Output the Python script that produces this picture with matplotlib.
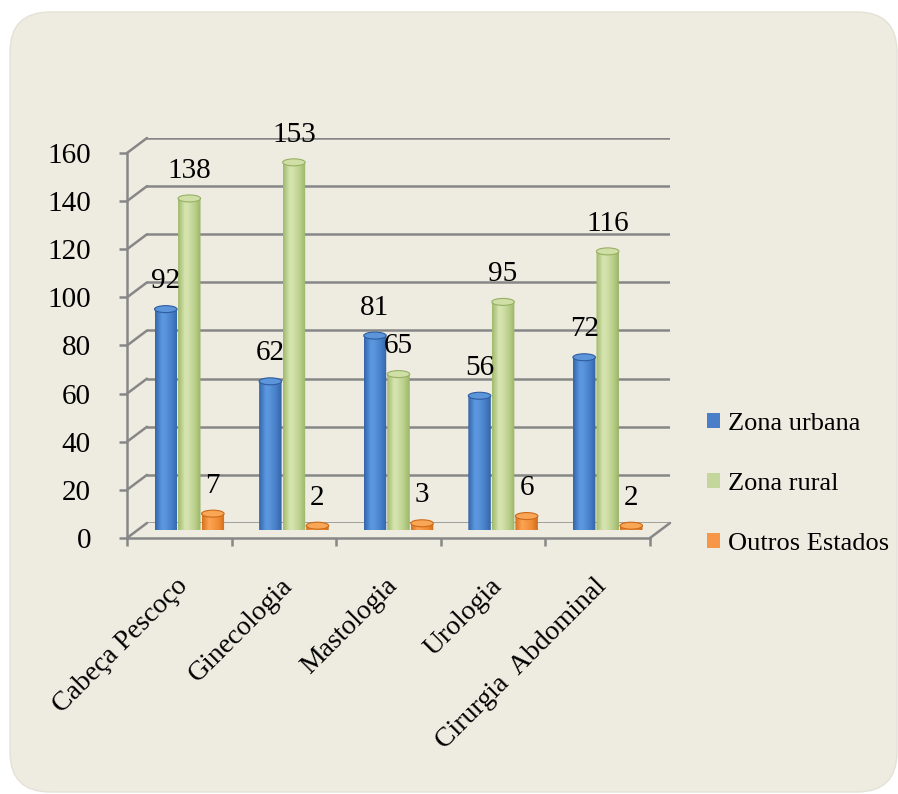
import matplotlib
matplotlib.use("Agg")
import matplotlib.pyplot as plt
import numpy as np
from matplotlib.patches import FancyBboxPatch, Ellipse, Polygon, Patch, ConnectionPatch
from matplotlib.colors import LinearSegmentedColormap
from matplotlib.transforms import IdentityTransform, ScaledTranslation

plt.rcParams['font.family'] = ['Liberation Serif', 'DejaVu Serif']

# ---------------- data ----------------
categories = ["Cabeça Pescoço", "Ginecologia", "Mastologia", "Urologia", "Cirurgia  Abdominal"]
series_names = ["Zona urbana", "Zona rural", "Outros Estados"]
zona_urbana = [92, 62, 81, 56, 72]
zona_rural = [138, 153, 65, 95, 116]
outros_estados = [7, 2, 3, 6, 2]
y_ticks = [0, 20, 40, 60, 80, 100, 120, 140, 160]

# ---------------- styling ----------------
W, H = 898, 794
BG = '#EEECE1'
GRID = '#878787'
series_values = [zona_urbana, zona_rural, outros_estados]
legend_colors = ['#4A7EC8', '#C3D69B', '#F79646']
grad_colors = [
    ['#3565AA', '#5B98E0', '#5A95DC', '#467FC8', '#3463A6'],
    ['#9FB96C', '#D6E4B0', '#D2E1AA', '#B9CF8A', '#9BB468'],
    ['#D8711C', '#FBA455', '#F99C48', '#EE8A33', '#D06C1A'],
]
cap_colors = ['#5C95DA', '#CFDFA6', '#F9A657']
cap_edges = ['#2F5C9E', '#97B064', '#CB6A18']

fig = plt.figure(figsize=(W / 100, H / 100), dpi=100)
fig.patch.set_facecolor('white')

bg = FancyBboxPatch((10, H - 792), 887, 780,
                    boxstyle="round,pad=0,rounding_size=40",
                    transform=IdentityTransform(), facecolor=BG,
                    edgecolor='#E4E2D6', linewidth=1.0, zorder=0)
fig.patches.append(bg)


def add_ax(left, right, y0, ytop, z):
    a = fig.add_axes([left / W, 1 - y0 / H, (right - left) / W, (y0 - ytop) / H])
    a.set_zorder(z)
    a.patch.set_visible(False)
    a.set_xlim(-0.5, len(categories) - 0.5)
    a.set_ylim(0, 160)
    return a


axb = add_ax(147, 670, 523, 138, 1)     # back wall
axm = add_ax(137, 660, 530.5, 145.5, 2)  # mid-depth plane (bars)
axf = add_ax(127, 650, 538, 153, 3)     # front plane (axes)

# back wall gridlines
for a in (axb, axm):
    for s in a.spines.values():
        s.set_visible(False)
    a.set_xticks([])
    a.set_yticks([])
for v in y_ticks:
    axb.axhline(v, color=GRID, lw=1.8)
    cp = ConnectionPatch(xyA=(-0.5, v), coordsA=axf.transData,
                         xyB=(-0.5, v), coordsB=axb.transData,
                         color=GRID, lw=1.8, zorder=1)
    fig.add_artist(cp)
cp = ConnectionPatch(xyA=(len(categories) - 0.5, 0), coordsA=axf.transData,
                     xyB=(len(categories) - 0.5, 0), coordsB=axb.transData,
                     color=GRID, lw=1.8, zorder=1)
fig.add_artist(cp)

# front axes
axf.spines['top'].set_visible(False)
axf.spines['right'].set_visible(False)
for s in ('left', 'bottom'):
    axf.spines[s].set_color(GRID)
    axf.spines[s].set_linewidth(1.8)
axf.set_yticks(y_ticks)
axf.set_yticklabels([str(v) for v in y_ticks])
axf.tick_params(axis='y', direction='out', length=6, width=1.8, color=GRID,
                labelsize=21, pad=20)
xpos = np.arange(len(categories))
axf.set_xticks(xpos)
axf.set_xticklabels(categories)
axf.set_xticks(np.arange(len(categories) + 1) - 0.5, minor=True)
axf.tick_params(axis='x', which='major', length=0, labelsize=20, pad=32)
axf.tick_params(axis='x', which='minor', direction='out', length=6, width=1.8, color=GRID)
shift = ScaledTranslation(5 / 100, 0, fig.dpi_scale_trans)
for lab in axf.get_xticklabels():
    lab.set_rotation(45)
    lab.set_ha('right')
    lab.set_va('center')
    lab.set_rotation_mode('anchor')
    lab.set_transform(lab.get_transform() + shift)

# cylinders
bw = 0.215
step = 0.225
cap_h = 2.9
t_bot = np.linspace(np.pi, 2 * np.pi, 40)


def cylinder(ax, xc, h, w, gcols, capc, cape, z):
    x0, x1 = xc - w / 2, xc + w / 2
    cmap = LinearSegmentedColormap.from_list('g', list(zip([0, 0.3, 0.45, 0.75, 1.0], gcols)))
    img = cmap(np.linspace(0, 1, 64))[None, :, :3]
    im = ax.imshow(img, extent=(x0, x1, -cap_h / 2, h), aspect='auto',
                   interpolation='bilinear', zorder=z)
    pts = [(x0, h)] + [(xc + w / 2 * np.cos(t), cap_h / 2 * np.sin(t)) for t in t_bot] + [(x1, h)]
    clip = Polygon(pts, closed=True, transform=ax.transData)
    im.set_clip_path(clip)
    ax.add_patch(Ellipse((xc, h), w, cap_h, facecolor=capc, edgecolor=cape,
                         linewidth=0.8, zorder=z + 0.1))


for si, vals in enumerate(series_values):
    for ci, v in enumerate(vals):
        xc = xpos[ci] + (si - 1) * step
        cylinder(axm, xc, v, bw, grad_colors[si], cap_colors[si], cap_edges[si], 3 + ci * 0.01 + si * 0.001)
        axm.annotate(str(v), (xc, v), xytext=(0, 15), textcoords='offset points',
                     ha='center', va='baseline', fontsize=21, annotation_clip=False,
                     zorder=10)

axm.set_xlim(-0.5, len(categories) - 0.5)
axm.set_ylim(0, 160)

handles = [Patch(facecolor=c, edgecolor='none') for c in legend_colors]
fig.legend(handles, series_names, loc='center left', bbox_to_anchor=(707 / W, 1 - 484 / H),
           frameon=False, fontsize=19, handlelength=0.5, handleheight=0.5,
           handletextpad=0.3, labelspacing=1.45, borderpad=0, borderaxespad=0)

fig.savefig('out.png', dpi=100, facecolor='white')
